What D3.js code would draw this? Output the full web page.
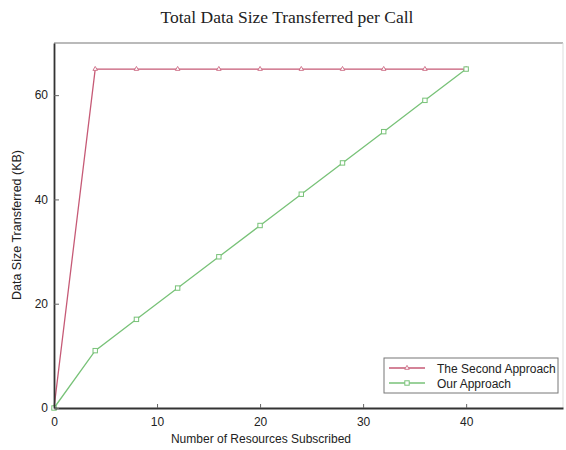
<!DOCTYPE html>
<html>
<head>
<meta charset="utf-8">
<script src="https://cdn.jsdelivr.net/npm/d3@7"></script>
<style>
  html, body { margin: 0; padding: 0; background: #fff; }
  svg { display: block; }
</style>
</head>
<body>
<svg id="chart" width="566" height="450"></svg>
<script>
// Subscribed resources (x) and transferred size per call in KB (y)
const resources = [0, 4, 8, 12, 16, 20, 24, 28, 32, 36, 40];
const secondApproach = [0, 65, 65, 65, 65, 65, 65, 65, 65, 65, 65];
const ourApproach = [0, 11, 17, 23, 29, 35, 41, 47, 53, 59, 65];
const xTicks = [0, 10, 20, 30, 40];
const yTicks = [0, 20, 40, 60];
const seriesNames = ["The Second Approach", "Our Approach"];

const svg = d3.select("#chart");
const plotLeft = 54, plotRight = 563, plotTop = 43, plotBottom = 408;

const x = d3.scaleLinear().domain([0, 49.4]).range([plotLeft, plotRight]);
const y = d3.scaleLinear().domain([0, 70]).range([plotBottom, plotTop]);

const red = "#c65a76";
const green = "#78c278";
const sans = "Liberation Sans, Arial, sans-serif";

// Title
svg.append("text")
  .attr("x", 287).attr("y", 23)
  .attr("text-anchor", "middle")
  .attr("font-family", "Liberation Serif, Times New Roman, serif")
  .attr("font-size", 17.5)
  .attr("fill", "#222")
  .text("Total Data Size Transferred per Call");

// Frame: top and right edges
svg.append("line").attr("x1", plotLeft).attr("x2", plotRight).attr("y1", plotTop).attr("y2", plotTop)
  .attr("stroke", "#777").attr("stroke-width", 1.2);
svg.append("line").attr("x1", plotRight).attr("x2", plotRight).attr("y1", plotTop).attr("y2", plotBottom)
  .attr("stroke", "#ddd").attr("stroke-width", 1);

// Series lines
const line = d3.line().x((d, i) => x(resources[i])).y(d => y(d));

svg.append("path").datum(ourApproach)
  .attr("d", line).attr("fill", "none")
  .attr("stroke", green).attr("stroke-width", 1.3);
svg.append("path").datum(secondApproach)
  .attr("d", line).attr("fill", "none")
  .attr("stroke", red).attr("stroke-width", 1.3);

// Markers
const tri = d3.symbol().type(d3.symbolTriangle).size(9);
svg.append("g").selectAll("path").data(secondApproach).join("path")
  .attr("d", tri)
  .attr("transform", (d, i) => `translate(${x(resources[i])},${y(d)})`)
  .attr("fill", "#fff").attr("stroke", red).attr("stroke-width", 0.8);

svg.append("g").selectAll("rect").data(ourApproach).join("rect")
  .attr("x", (d, i) => x(resources[i]) - 2.2)
  .attr("y", d => y(d) - 2.2)
  .attr("width", 4.4).attr("height", 4.4)
  .attr("fill", "#fff").attr("stroke", green).attr("stroke-width", 1);

// Axes
const xAxis = svg.append("g").attr("transform", `translate(0,${plotBottom})`)
  .call(d3.axisBottom(x).tickValues(xTicks).tickSizeInner(-4).tickSizeOuter(0).tickPadding(9));
const yAxis = svg.append("g").attr("transform", `translate(${plotLeft},0)`)
  .call(d3.axisLeft(y).tickValues(yTicks).tickSizeInner(-5).tickSizeOuter(0).tickPadding(6));

[xAxis, yAxis].forEach(g => {
  g.select(".domain").attr("stroke", "#333").attr("stroke-width", 1.8);
  g.selectAll(".tick line").attr("stroke", "#666").attr("stroke-width", 1);
  g.selectAll(".tick text")
    .attr("font-family", sans)
    .attr("font-size", 12).attr("fill", "#222");
});

// Axis titles
svg.append("text")
  .attr("x", 261).attr("y", 443)
  .attr("text-anchor", "middle")
  .attr("font-family", sans)
  .attr("font-size", 12).attr("fill", "#222")
  .text("Number of Resources Subscribed");

svg.append("text")
  .attr("transform", "translate(21,225) rotate(-90)")
  .attr("text-anchor", "middle")
  .attr("font-family", sans)
  .attr("font-size", 12.5).attr("fill", "#222")
  .text("Data Size Transferred (KB)");

// Legend
const legend = svg.append("g").attr("transform", "translate(384,358)");
legend.append("rect").attr("width", 174).attr("height", 35)
  .attr("fill", "#fff").attr("stroke", "#777").attr("stroke-width", 1);
const colors = [red, green];
seriesNames.forEach((name, i) => {
  const ly = 10 + i * 15;
  legend.append("line").attr("x1", 5).attr("x2", 41).attr("y1", ly).attr("y2", ly)
    .attr("stroke", colors[i]).attr("stroke-width", 1.3);
  if (i === 0) {
    legend.append("path").attr("d", tri).attr("transform", `translate(23,${ly})`)
      .attr("fill", "#fff").attr("stroke", red).attr("stroke-width", 0.8);
  } else {
    legend.append("rect").attr("x", 20.8).attr("y", ly - 2.2).attr("width", 4.4).attr("height", 4.4)
      .attr("fill", "#fff").attr("stroke", green).attr("stroke-width", 1);
  }
  legend.append("text").attr("x", 53).attr("y", ly + 4.5)
    .attr("font-family", sans)
    .attr("font-size", 12).attr("fill", "#222")
    .text(name);
});
</script>
</body>
</html>
